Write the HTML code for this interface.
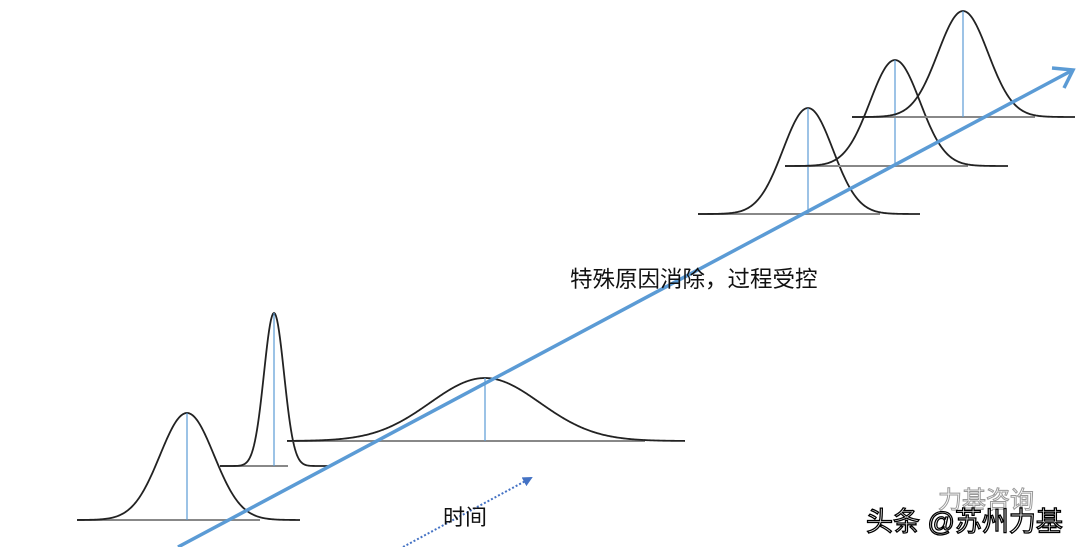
<!DOCTYPE html>
<html><head><meta charset="utf-8"><style>
body{margin:0;width:1080px;height:547px;background:#fff;overflow:hidden;font-family:"Liberation Sans","Noto Sans CJK SC",sans-serif}
svg{position:absolute;left:0;top:0}
.t{position:absolute;white-space:nowrap;color:#111}
</style></head><body>
<svg id="s" width="1080" height="547" viewBox="0 0 1080 547">
<defs>
<marker id="m2" markerWidth="10" markerHeight="10" refX="8" refY="5" orient="auto" markerUnits="userSpaceOnUse"><path d="M0,0 L10,5 L0,10 Z" fill="#4472c4"/></marker></defs>
<g id="g"></g>
<line x1="178" y1="547" x2="1071" y2="71" stroke="#5b9bd5" stroke-width="3.5"/>
<path d="M1052,68 L1073,70 L1064,88" fill="none" stroke="#5b9bd5" stroke-width="3.5"/>
<line x1="403" y1="547" x2="531" y2="478" stroke="#4472c4" stroke-width="2" stroke-dasharray="2,2" marker-end="url(#m2)"/>
</svg>
<div class="t" style="left:570px;top:262px;font-size:22.5px">特殊原因消除，过程受控</div>
<div class="t" style="left:443px;top:500px;font-size:22px">时间</div>
<div class="t" style="left:938px;top:480px;font-size:24px;color:#fff;-webkit-text-stroke:1px #999">力基咨询</div>
<div class="t" style="left:866px;top:500px;font-size:27px;color:#fff;-webkit-text-stroke:1.3px #000">头条 @苏州力基</div>
<script>
var curves=[[77,300,187,520,107,27],[220,328,274,466,153,10],[287,685,485,441,63,55],[698,920,808,214,106,25],[785,1008,895,166,106,25],[852,1075,963,117,106,25]];
var g=document.getElementById('g'),h='';
curves.forEach(function(c){
 var x0=c[0],x1=c[1],mu=c[2],by=c[3],a=c[4],s=c[5],d='';
 for(var x=x0;x<=x1;x+=1){var y=by-a*Math.exp(-(x-mu)*(x-mu)/(2*s*s));d+=(x==x0?'M':'L')+x+','+y.toFixed(2);}
 h+='<line x1="'+x0+'" y1="'+by+'" x2="'+(x1-40)+'" y2="'+by+'" stroke="#888" stroke-width="2"/>';
 h+='<path d="'+d+'" fill="none" stroke="#222" stroke-width="1.8"/>';
 h+='<line x1="'+mu+'" y1="'+by+'" x2="'+mu+'" y2="'+(by-a)+'" stroke="#5b9bd5" stroke-width="1.2"/>';
});
g.innerHTML=h;
</script>
</body></html>
